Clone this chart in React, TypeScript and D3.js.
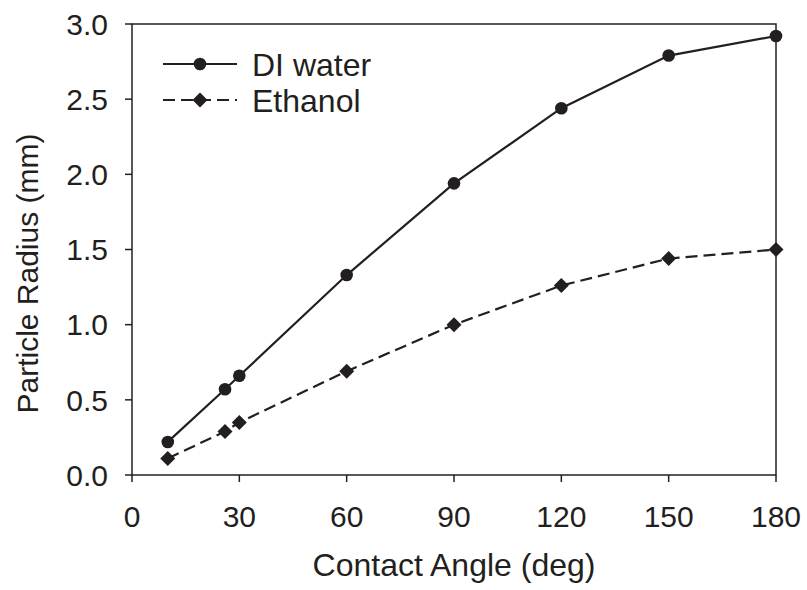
import React from "react";
import * as d3 from "d3";

const angles = [10, 26, 30, 60, 90, 120, 150, 180];
const diWater = [0.22, 0.57, 0.66, 1.33, 1.94, 2.44, 2.79, 2.92];
const ethanol = [0.11, 0.29, 0.35, 0.69, 1.0, 1.26, 1.44, 1.5];
const xTicks = [0, 30, 60, 90, 120, 150, 180];
const yTicks = [0, 0.5, 1.0, 1.5, 2.0, 2.5, 3.0];
const seriesNames = ["DI water", "Ethanol"];

const W = 807, H = 590;
const M = { left: 132, right: 776, top: 24, bottom: 475 };
const INK = "#231f20";
const FONT = "'Liberation Sans', Arial, sans-serif";

export default function App() {
  const x = d3.scaleLinear().domain([0, 180]).range([M.left, M.right]);
  const y = d3.scaleLinear().domain([0, 3]).range([M.bottom, M.top]);
  const line = d3.line<[number, number]>().x(d => x(d[0])).y(d => y(d[1]));
  const diPts = angles.map((a, i) => [a, diWater[i]] as [number, number]);
  const etPts = angles.map((a, i) => [a, ethanol[i]] as [number, number]);
  const circle = d3.symbol().type(d3.symbolCircle).size(Math.PI * 6.3 * 6.3);
  const diamond = (cx: number, cy: number, r: number) =>
    `M${cx},${cy - r}L${cx + r},${cy}L${cx},${cy + r}L${cx - r},${cy}Z`;

  return (
    <svg width={W} height={H} style={{ position: "absolute", left: 0, top: 0, background: "#fff" }}
      fontFamily={FONT}>
      <rect x={0} y={0} width={W} height={H} fill="#fff" />
      {/* frame */}
      <rect x={M.left} y={M.top} width={M.right - M.left} height={M.bottom - M.top}
        fill="none" stroke={INK} strokeWidth={1.5} />
      {/* y ticks */}
      {yTicks.map(t => (
        <g key={"y" + t}>
          <line x1={M.left - 7} x2={M.left} y1={y(t)} y2={y(t)} stroke={INK} strokeWidth={1.5} />
          <text x={108} y={y(t)} dy="0.36em" textAnchor="end" fontSize={30} fill={INK}>{t.toFixed(1)}</text>
        </g>
      ))}
      {/* x ticks */}
      {xTicks.map(t => (
        <g key={"x" + t}>
          <line x1={x(t)} x2={x(t)} y1={M.bottom} y2={M.bottom + 7} stroke={INK} strokeWidth={1.5} />
          <text x={x(t)} y={527} textAnchor="middle" fontSize={30} fill={INK}>{t}</text>
        </g>
      ))}
      <text x={(M.left + M.right) / 2} y={576} textAnchor="middle" fontSize={32} fill={INK}>Contact Angle (deg)</text>
      <text transform={`translate(38,${(M.top + M.bottom) / 2 + 24}) rotate(-90)`} textAnchor="middle" fontSize={30} fill={INK}>Particle Radius (mm)</text>

      {/* series */}
      <path d={line(diPts) || ""} fill="none" stroke={INK} strokeWidth={2.2} />
      <path d={line(etPts) || ""} fill="none" stroke={INK} strokeWidth={2.2} strokeDasharray="12,6" />
      {diPts.map((p, i) => (
        <path key={"c" + i} d={circle() || ""} transform={`translate(${x(p[0])},${y(p[1])})`} fill={INK} />
      ))}
      {etPts.map((p, i) => (
        <path key={"d" + i} d={diamond(x(p[0]), y(p[1]), 7.5)} fill={INK} />
      ))}

      {/* legend */}
      <line x1={163} x2={237} y1={64} y2={64} stroke={INK} strokeWidth={2.2} />
      <path d={circle() || ""} transform="translate(200,64)" fill={INK} />
      <text x={252} y={64} dy="0.36em" fontSize={32} fill={INK}>{seriesNames[0]}</text>
      <line x1={163} x2={237} y1={100} y2={100} stroke={INK} strokeWidth={2.2} strokeDasharray="12,6" />
      <path d={diamond(200, 100, 7.5)} fill={INK} />
      <text x={252} y={100} dy="0.36em" fontSize={32} fill={INK}>{seriesNames[1]}</text>
    </svg>
  );
}
